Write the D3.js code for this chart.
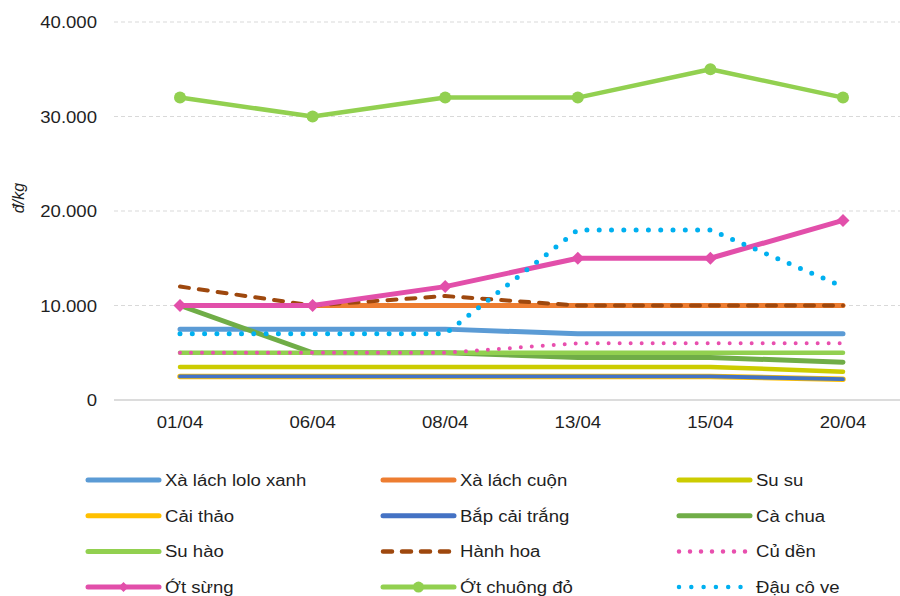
<!DOCTYPE html>
<html>
<head>
<meta charset="utf-8">
<script src="https://cdn.jsdelivr.net/npm/d3@7"></script>
<style>
  html, body { margin: 0; padding: 0; background: #fff; }
  svg { display: block; font-family: "Liberation Sans", Arial, sans-serif; }
</style>
</head>
<body>
<svg id="chart" width="900" height="596"></svg>
<script>
// Dates on the x axis
const dates = ["01/04", "06/04", "08/04", "13/04", "15/04", "20/04"];

// Prices (đ/kg) per vegetable
const xaLachLolo   = [7500, 7500, 7500, 7000, 7000, 7000];
const xaLachCuon   = [10000, 10000, 10000, 10000, 10000, 10000];
const suSu         = [3500, 3500, 3500, 3500, 3500, 3000];
const caiThao      = [2500, 2500, 2500, 2500, 2500, 2200];
const bapCaiTrang  = [2500, 2500, 2500, 2500, 2500, 2200];
const caChua       = [10000, 5000, 5000, 4500, 4500, 4000];
const suHao        = [5000, 5000, 5000, 5000, 5000, 5000];
const hanhHoa      = [12000, 10000, 11000, 10000, 10000, 10000];
const cuDen        = [5000, 5000, 5000, 6000, 6000, 6000];
const otSung       = [10000, 10000, 12000, 15000, 15000, 19000];
const otChuongDo   = [32000, 30000, 32000, 32000, 35000, 32000];
const dauCoVe      = [7000, 7000, 7000, 18000, 18000, 12000];

// Y axis ticks
const yTicks = [0, 10000, 20000, 30000, 40000];
const yTitle = "đ/kg";

// Series in drawing order (later ones on top), with their styles
const series = [
  { name: "Xà lách lolo xanh", values: xaLachLolo,  color: "#5B9BD5", width: 5 },
  { name: "Xà lách cuộn",      values: xaLachCuon,  color: "#ED7D31", width: 5 },
  { name: "Su su",             values: suSu,        color: "#CCCC00", width: 4.5 },
  { name: "Cải thảo",          values: caiThao,     color: "#FFC000", width: 5.5 },
  { name: "Bắp cải trắng",     values: bapCaiTrang, color: "#4472C4", width: 3.8 },
  { name: "Cà chua",           values: caChua,      color: "#70AD47", width: 5 },
  { name: "Su hào",            values: suHao,       color: "#92D050", width: 4.5 },
  { name: "Hành hoa",          values: hanhHoa,     color: "#9E480E", width: 4,   dash: "9 10" },
  { name: "Củ dền",            values: cuDen,       color: "#E84FAE", width: 4,   dash: "0 11" },
  { name: "Ớt sừng",           values: otSung,      color: "#E24FAA", width: 5,   marker: "diamond" },
  { name: "Ớt chuông đỏ",      values: otChuongDo,  color: "#92D050", width: 4.5, marker: "circle" },
  { name: "Đậu cô ve",         values: dauCoVe,     color: "#00B0F0", width: 5,   dash: "0 12.3" }
];

const svg = d3.select("#chart");
const TEXT_STRETCH = 1.16;
const textColor = "#1f1f1f";

const plotLeft = 114, plotRight = 909;
const x = d3.scalePoint().domain(dates).range([180, 843]);
const y = d3.scaleLinear().domain([0, 40000]).range([400, 22]);

const fmt = v => v === 0 ? "0" : d3.format(",")(v).replace(/,/g, ".");

// Horizontal text helper (glyphs slightly widened)
function label(g, tx, ty, str, anchor, size, italic) {
  return g.append("text")
    .attr("transform", `translate(${tx},${ty}) scale(${TEXT_STRETCH},1)`)
    .attr("text-anchor", anchor)
    .attr("font-size", size)
    .attr("font-style", italic ? "italic" : "normal")
    .attr("fill", textColor)
    .text(str);
}

// Gridlines
const grid = svg.append("g");
grid.selectAll("line")
  .data(yTicks.filter(t => t > 0))
  .join("line")
  .attr("x1", plotLeft).attr("x2", plotRight)
  .attr("y1", d => y(d)).attr("y2", d => y(d))
  .attr("stroke", "#D9D9D9").attr("stroke-width", 1)
  .attr("stroke-dasharray", "4 3");

// Baseline
svg.append("line")
  .attr("x1", plotLeft).attr("x2", plotRight)
  .attr("y1", y(0)).attr("y2", y(0))
  .attr("stroke", "#D0D0D0").attr("stroke-width", 1.6);

// Y tick labels
const yAxisG = svg.append("g");
yTicks.forEach(t => label(yAxisG, 97, y(t) + 6, fmt(t), "end", 16));

// X tick labels
const xAxisG = svg.append("g");
dates.forEach(d => label(xAxisG, x(d), 428, d, "middle", 16));

// Y axis title
svg.append("text")
  .attr("transform", "translate(24,198) rotate(-90)")
  .attr("text-anchor", "middle")
  .attr("font-size", 16)
  .attr("font-style", "italic")
  .attr("fill", textColor)
  .text(yTitle);

// Lines
const linesG = svg.append("g");

function diamondPath(cx, cy, r) {
  return `M${cx},${cy - r}L${cx + r},${cy}L${cx},${cy + r}L${cx - r},${cy}Z`;
}

const line = d3.line()
  .x((v, i) => x(dates[i]))
  .y(v => y(v))
  .curve(d3.curveLinear);

series.forEach(s => {
  linesG.append("path")
    .attr("d", line(s.values))
    .attr("fill", "none")
    .attr("stroke", s.color)
    .attr("stroke-width", s.width)
    .attr("stroke-linecap", "round")
    .attr("stroke-linejoin", "round")
    .attr("stroke-dasharray", s.dash || null);

  if (s.marker === "diamond") {
    linesG.selectAll(null).data(s.values).join("path")
      .attr("d", (v, i) => diamondPath(x(dates[i]), y(v), 6.5))
      .attr("fill", s.color);
  } else if (s.marker === "circle") {
    linesG.selectAll(null).data(s.values).join("circle")
      .attr("cx", (v, i) => x(dates[i]))
      .attr("cy", v => y(v))
      .attr("r", 6)
      .attr("fill", s.color);
  }
});

// Legend: 3 columns, 4 rows
const legendCols = [88, 383, 679];
const legendLineLen = 71;
const legendRowY = i => 480 + i * 35.7;
const legendG = svg.append("g");

series.forEach((s, i) => {
  const col = i % 3, row = Math.floor(i / 3);
  const lx = legendCols[col], ly = legendRowY(row);
  legendG.append("line")
    .attr("x1", lx).attr("x2", lx + legendLineLen)
    .attr("y1", ly).attr("y2", ly)
    .attr("stroke", s.color)
    .attr("stroke-width", s.dash ? 4.5 : 5)
    .attr("stroke-linecap", "round")
    .attr("stroke-dasharray", s.dash || null);
  const mx = lx + legendLineLen / 2;
  if (s.marker === "diamond") {
    legendG.append("path").attr("d", diamondPath(mx, ly, 5)).attr("fill", s.color);
  } else if (s.marker === "circle") {
    legendG.append("circle").attr("cx", mx).attr("cy", ly).attr("r", 5.5).attr("fill", s.color);
  }
  label(legendG, lx + legendLineLen + 6, ly + 6, s.name, "start", 16);
});
</script>
</body>
</html>
